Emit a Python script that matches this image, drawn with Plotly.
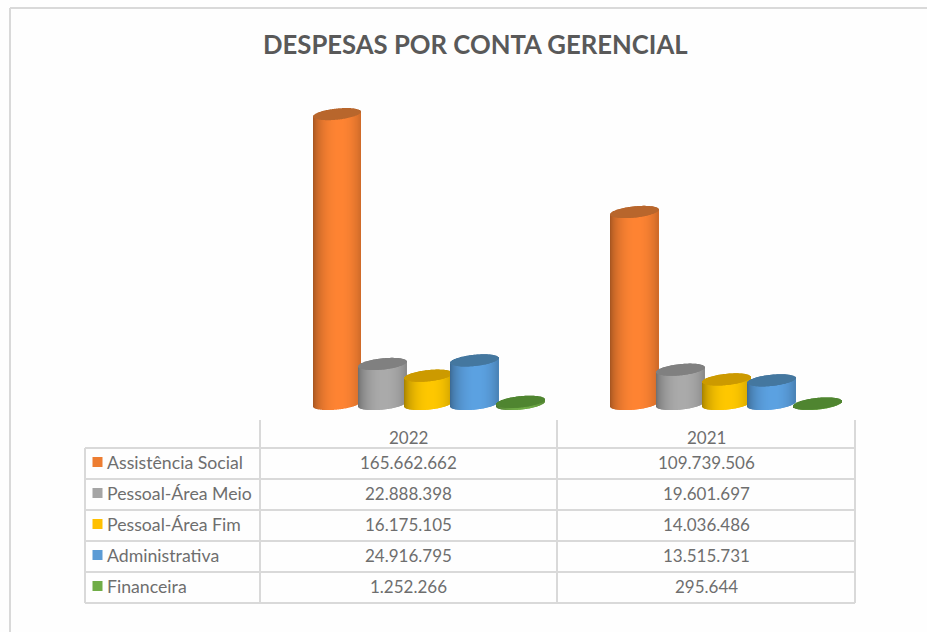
import math
import plotly.graph_objects as go

CATEGORIES = ["2022", "2021"]
SERIES = ["Assistência Social", "Pessoal-Área Meio", "Pessoal-Área Fim", "Administrativa", "Financeira"]
VALUES_2022 = [165662662, 22888398, 16175105, 24916795, 1252266]
VALUES_2021 = [109739506, 19601697, 14036486, 13515731, 295644]
TITLE = "DESPESAS POR CONTA GERENCIAL"

BODY = ["#FF8433", "#ABABAB", "#FFC800", "#5CA2E2", "#70AD47"]
CAP = ["#B8662C", "#808080", "#CC9A00", "#44779F", "#4F8530"]
KEY = ["#ED7D31", "#A5A5A5", "#FFC000", "#5B9BD5", "#70AD47"]

W, H = 927, 632
PX_PER_CAT = 297.5      # pixels between the two categories
CAT0_PX = 428.6         # the 3D plot sits to the right of the table columns
PX_PER_VAL = 1.75e-6    # pixels per unit of value
BASE_PX = 404
SPACING, HALF_W, SEMI, SHEAR, STEP = 45.8, 24.0, 5.6, 0.10, 1

TXT = "#6E6E6E"
GRID = "#D9D9D9"
FONT = "Lato"

def shade(hex_color, f):
    r, g, b = (int(hex_color[i:i + 2], 16) for i in (1, 3, 5))
    return f"rgb({min(255, int(r * f))},{min(255, int(g * f))},{min(255, int(b * f))})"

def arc(dx):
    return SEMI * math.sqrt(max(0.0, 1 - (dx / HALF_W) ** 2))

fig = go.Figure()
offsets = [d for d in range(int(-HALF_W), int(HALF_W), STEP)]
groups = [VALUES_2022, VALUES_2021]
for i, name in enumerate(SERIES):
    bx, bb, by, bc, cb, cy = [], [], [], [], [], []
    for g, vals in enumerate(groups):
        centre = g + (i - 2) * SPACING / PX_PER_CAT
        for d in offsets:
            mid = d + STEP / 2
            x = centre + mid / PX_PER_CAT
            a = arc(mid)
            tilt = SHEAR * mid
            base = (tilt - a) / PX_PER_VAL
            top = vals[i] + tilt / PX_PER_VAL
            bx.append(x)
            bb.append(base)
            by.append(top - base)
            u = (mid / HALF_W - 0.1) / 1.1
            bc.append(shade(BODY[i], 0.62 + 0.38 * math.sqrt(max(0.0, 1 - u * u)) ** 1.3))
            cb.append(vals[i] + (tilt - a) / PX_PER_VAL)
            cy.append(2 * a / PX_PER_VAL)
    width = STEP / PX_PER_CAT
    fig.add_trace(go.Bar(x=bx, y=by, base=bb, width=width, name=name,
                         marker=dict(color=bc, line=dict(width=0)), hoverinfo="skip"))
    fig.add_trace(go.Bar(x=bx, y=cy, base=cb, width=width, name=name + " (topo)",
                         marker=dict(color=CAP[i], line=dict(width=0)), hoverinfo="skip"))

def px(x):
    return x / W

def py(y):
    return 1 - y / H

shapes = []

def line(x0, y0, x1, y1):
    shapes.append(dict(type="line", xref="paper", yref="paper", x0=px(x0), y0=py(y0), x1=px(x1), y1=py(y1),
                       line=dict(color=GRID, width=2), layer="below"))

line(10, 8, W, 8)
line(10, 8, 10, H)
ROWS = [448, 479, 510, 541, 572, 603]
for y in ROWS:
    line(85, y, 855, y)
line(85, 448, 85, 603)
for x in (260, 557, 855):
    line(x, 420, x, 603)

annotations = [dict(text=f"<b>{TITLE}</b>", xref="paper", yref="paper", x=px(475.5), y=py(44), showarrow=False,
                    font=dict(family=FONT, size=25.7, color="#595959"), xanchor="center", yanchor="middle")]

def fmt(v):
    return f"{v:,}".replace(",", ".")

def label(text, x, y, anchor="center", size=17):
    annotations.append(dict(text=text, xref="paper", yref="paper", x=px(x), y=py(y), showarrow=False,
                            font=dict(family=FONT, size=size, color=TXT), xanchor=anchor, yanchor="middle"))

COL_X = [408.5, 706]
for c, cat in enumerate(CATEGORIES):
    label(cat, COL_X[c], 437)
for i, name in enumerate(SERIES):
    yc = (ROWS[i] + ROWS[i + 1]) / 2 - 1.5
    label(name, 105, yc, "left", 17.7)
    shapes.append(dict(type="rect", xref="paper", yref="paper", x0=px(92.5), x1=px(102.5),
                       y0=py(yc + 5), y1=py(yc - 5), fillcolor=KEY[i], line=dict(width=0)))
    for c, vals in enumerate(groups):
        label(fmt(vals[i]), COL_X[c], yc)

fig.update_layout(
    width=W, height=H, margin=dict(l=0, r=0, t=0, b=0),
    paper_bgcolor="#FEFEFE", plot_bgcolor="rgba(0,0,0,0)",
    barmode="overlay", showlegend=False,
    xaxis=dict(range=[-CAT0_PX / PX_PER_CAT, (W - CAT0_PX) / PX_PER_CAT], visible=False, fixedrange=True),
    yaxis=dict(range=[-(H - BASE_PX) / PX_PER_VAL, BASE_PX / PX_PER_VAL], visible=False, fixedrange=True),
    shapes=shapes, annotations=annotations,
)
fig.write_html("out.html", config=dict(displayModeBar=False),
               post_script="document.body.style.margin='0';document.body.style.overflow='hidden';")
